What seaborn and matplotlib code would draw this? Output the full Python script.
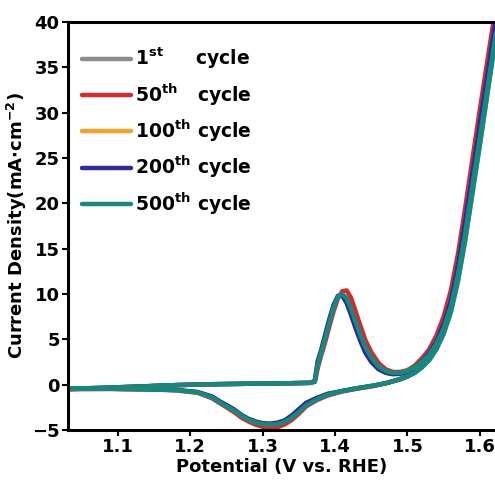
import numpy as np
import pandas as pd
import matplotlib
matplotlib.use("Agg")
import matplotlib.pyplot as plt
import seaborn as sns

# CV curves (mA/cm2 vs V vs RHE)
cycles = ["1st", "50th", "100th", "200th", "500th"]
cycle_labels = [r"1$^{st}$     cycle", r"50$^{th}$   cycle", r"100$^{th}$ cycle",
                r"200$^{th}$ cycle", r"500$^{th}$ cycle"]
colors = ["#8c8c8c", "#d62a2a", "#f2a22c", "#2b2b9c", "#16897e"]

# forward (anodic) scan potentials
E_fwd = [1.03, 1.08, 1.13, 1.18, 1.23, 1.28, 1.33, 1.365, 1.372, 1.376, 1.38, 1.386,
         1.392, 1.398, 1.404, 1.41, 1.416, 1.422, 1.428, 1.435, 1.442, 1.45, 1.46, 1.47,
         1.48, 1.49, 1.50, 1.51, 1.52, 1.53, 1.54, 1.55, 1.56, 1.57, 1.58, 1.59, 1.60,
         1.61, 1.62, 1.625]
# reverse (cathodic) scan potentials
E_rev = [1.625, 1.62, 1.61, 1.60, 1.59, 1.58, 1.57, 1.56, 1.55, 1.54, 1.53, 1.52, 1.51,
         1.50, 1.49, 1.47, 1.45, 1.43, 1.41, 1.39, 1.375, 1.36, 1.35, 1.34, 1.33, 1.32,
         1.31, 1.30, 1.29, 1.28, 1.27, 1.26, 1.25, 1.24, 1.23, 1.21, 1.18, 1.14, 1.09, 1.03]

i_fwd_1st = [-0.45, -0.35, -0.2, -0.05, 0.05, 0.1, 0.15, 0.2, 0.35, 2.2, 3.3, 5.0,
             6.8, 8.5, 9.7, 10.0, 9.5, 8.4, 7.0, 5.5, 4.1, 3.0, 2.0, 1.5,
             1.3, 1.3, 1.5, 1.9, 2.5, 3.3, 4.5, 6.2, 8.6, 12.2, 16.8, 22.0, 27.2,
             32.4, 37.6, 40.2]
i_fwd_50th = [-0.5, -0.38, -0.22, -0.05, 0.05, 0.1, 0.15, 0.2, 0.3, 1.8, 3.0, 4.6,
              6.4, 8.1, 9.5, 10.3, 10.4, 9.6, 8.2, 6.5, 4.9, 3.6, 2.4, 1.7,
              1.4, 1.4, 1.6, 2.1, 2.9, 3.9, 5.4, 7.5, 10.4, 14.5, 19.6, 25.0, 30.3,
              35.5, 40.6, 43.0]
i_fwd_100th = [-0.45, -0.35, -0.2, -0.05, 0.05, 0.1, 0.15, 0.2, 0.4, 2.5, 3.5, 5.3,
               7.1, 8.7, 9.8, 9.9, 9.2, 7.9, 6.5, 5.0, 3.7, 2.6, 1.8, 1.35,
               1.2, 1.25, 1.5, 1.9, 2.6, 3.5, 4.8, 6.6, 9.2, 13.1, 18.0, 23.3, 28.6,
               33.8, 39.0, 41.6]
i_fwd_200th = [-0.45, -0.35, -0.2, -0.05, 0.05, 0.1, 0.15, 0.2, 0.4, 2.6, 3.6, 5.4,
               7.2, 8.8, 9.8, 9.8, 9.0, 7.7, 6.3, 4.8, 3.5, 2.5, 1.7, 1.3,
               1.15, 1.2, 1.45, 1.9, 2.6, 3.5, 4.8, 6.7, 9.3, 13.3, 18.2, 23.5, 28.8,
               34.0, 39.2, 41.8]
i_fwd_500th = [-0.45, -0.35, -0.2, -0.05, 0.05, 0.1, 0.15, 0.2, 0.35, 2.2, 3.3, 5.0,
               6.8, 8.5, 9.7, 10.0, 9.5, 8.4, 7.0, 5.5, 4.1, 3.0, 2.0, 1.5,
               1.3, 1.3, 1.5, 1.9, 2.5, 3.3, 4.5, 6.2, 8.6, 12.2, 16.8, 22.0, 27.2,
               32.4, 37.6, 40.2]

i_rev_1st = [40.2, 37.2, 31.8, 26.4, 21.2, 16.0, 11.5, 8.0, 5.6, 3.9, 2.7, 1.9, 1.3,
             0.9, 0.6, 0.15, -0.15, -0.4, -0.7, -1.1, -1.6, -2.3, -3.0, -3.65, -4.1, -4.35,
             -4.4, -4.35, -4.15, -3.85, -3.4, -2.8, -2.4, -1.9, -1.4, -0.85, -0.6, -0.5, -0.45, -0.45]
i_rev_50th = [43.0, 39.8, 34.5, 29.2, 23.8, 18.5, 13.6, 9.6, 6.7, 4.6, 3.2, 2.2, 1.5,
              1.0, 0.65, 0.15, -0.2, -0.45, -0.75, -1.2, -1.7, -2.4, -3.2, -3.9, -4.4, -4.7,
              -4.75, -4.65, -4.4, -4.05, -3.6, -3.0, -2.5, -2.0, -1.5, -0.9, -0.62, -0.52, -0.48, -0.5]
i_rev_100th = [41.6, 38.4, 33.0, 27.6, 22.3, 17.1, 12.4, 8.7, 6.0, 4.2, 2.9, 2.0, 1.35,
               0.9, 0.6, 0.15, -0.15, -0.4, -0.7, -1.05, -1.5, -2.1, -2.8, -3.5, -4.0, -4.25,
               -4.35, -4.3, -4.1, -3.8, -3.35, -2.75, -2.3, -1.85, -1.35, -0.85, -0.6, -0.5, -0.45, -0.45]
i_rev_200th = [41.8, 38.6, 33.2, 27.8, 22.5, 17.3, 12.6, 8.8, 6.1, 4.2, 2.9, 2.0, 1.35,
               0.9, 0.6, 0.15, -0.15, -0.4, -0.7, -1.0, -1.45, -2.0, -2.7, -3.4, -3.95, -4.2,
               -4.3, -4.25, -4.05, -3.75, -3.3, -2.7, -2.25, -1.8, -1.3, -0.8, -0.58, -0.5, -0.45, -0.45]
i_rev_500th = [40.2, 37.2, 31.8, 26.4, 21.2, 16.0, 11.5, 8.0, 5.6, 3.9, 2.7, 1.9, 1.3,
               0.9, 0.6, 0.15, -0.15, -0.4, -0.7, -1.1, -1.6, -2.3, -3.0, -3.65, -4.1, -4.35,
               -4.4, -4.35, -4.15, -3.85, -3.4, -2.8, -2.4, -1.9, -1.4, -0.85, -0.6, -0.5, -0.45, -0.45]

fwd_currents = [i_fwd_1st, i_fwd_50th, i_fwd_100th, i_fwd_200th, i_fwd_500th]
rev_currents = [i_rev_1st, i_rev_50th, i_rev_100th, i_rev_200th, i_rev_500th]

# build one long table, keeping the scan order inside each cycle
rows = []
for name, i_f, i_r in zip(cycles, fwd_currents, rev_currents):
    for e, i in zip(E_fwd + E_rev, i_f + i_r):
        rows.append({"cycle": name, "potential": e, "current": i})
cv_df = pd.DataFrame(rows)

sns.set_style("ticks")
plt.rcParams["font.family"] = ["DejaVu Sans"]
plt.rcParams["font.weight"] = "bold"
plt.rcParams["mathtext.default"] = "bf"
plt.rcParams["text.color"] = "black"
plt.rcParams["axes.labelcolor"] = "black"
plt.rcParams["xtick.color"] = "black"
plt.rcParams["ytick.color"] = "black"
plt.rcParams["axes.edgecolor"] = "black"

fig = plt.figure(figsize=(4.95, 4.82), dpi=100)
ax = fig.add_axes([68 / 495, 1 - 430 / 482, 1 - 68 / 495, (430 - 22) / 482])

sns.lineplot(data=cv_df, x="potential", y="current", hue="cycle", hue_order=cycles,
             palette=colors, sort=False, estimator=None, linewidth=3.2, ax=ax)

ax.set_xlim(1.031, 1.621)
ax.set_ylim(-5, 40)
ax.set_xticks([1.1, 1.2, 1.3, 1.4, 1.5, 1.6])
ax.set_yticks(np.arange(-5, 41, 5))
ax.set_xlabel("Potential (V vs. RHE)", fontsize=13, fontweight="bold", labelpad=1)
ax.set_ylabel(r"Current Density(mA$\cdot$cm$^{-2}$)", fontsize=13, fontweight="bold", labelpad=2)
ax.tick_params(axis="both", labelsize=13, width=1.5, length=4, direction="out", pad=2)
for lab in ax.get_xticklabels() + ax.get_yticklabels():
    lab.set_fontweight("bold")

for side in ["left", "bottom", "top"]:
    ax.spines[side].set_linewidth(2.2)
ax.spines["right"].set_visible(False)

handles, _ = ax.get_legend_handles_labels()
ax.legend(handles, cycle_labels, loc="upper left", bbox_to_anchor=(-0.007, 0.983),
          frameon=False, handlelength=2.6, handletextpad=0.25,
          labelspacing=0.54, prop={"weight": "bold", "size": 13.5})

fig.savefig("out.png", dpi=100)
